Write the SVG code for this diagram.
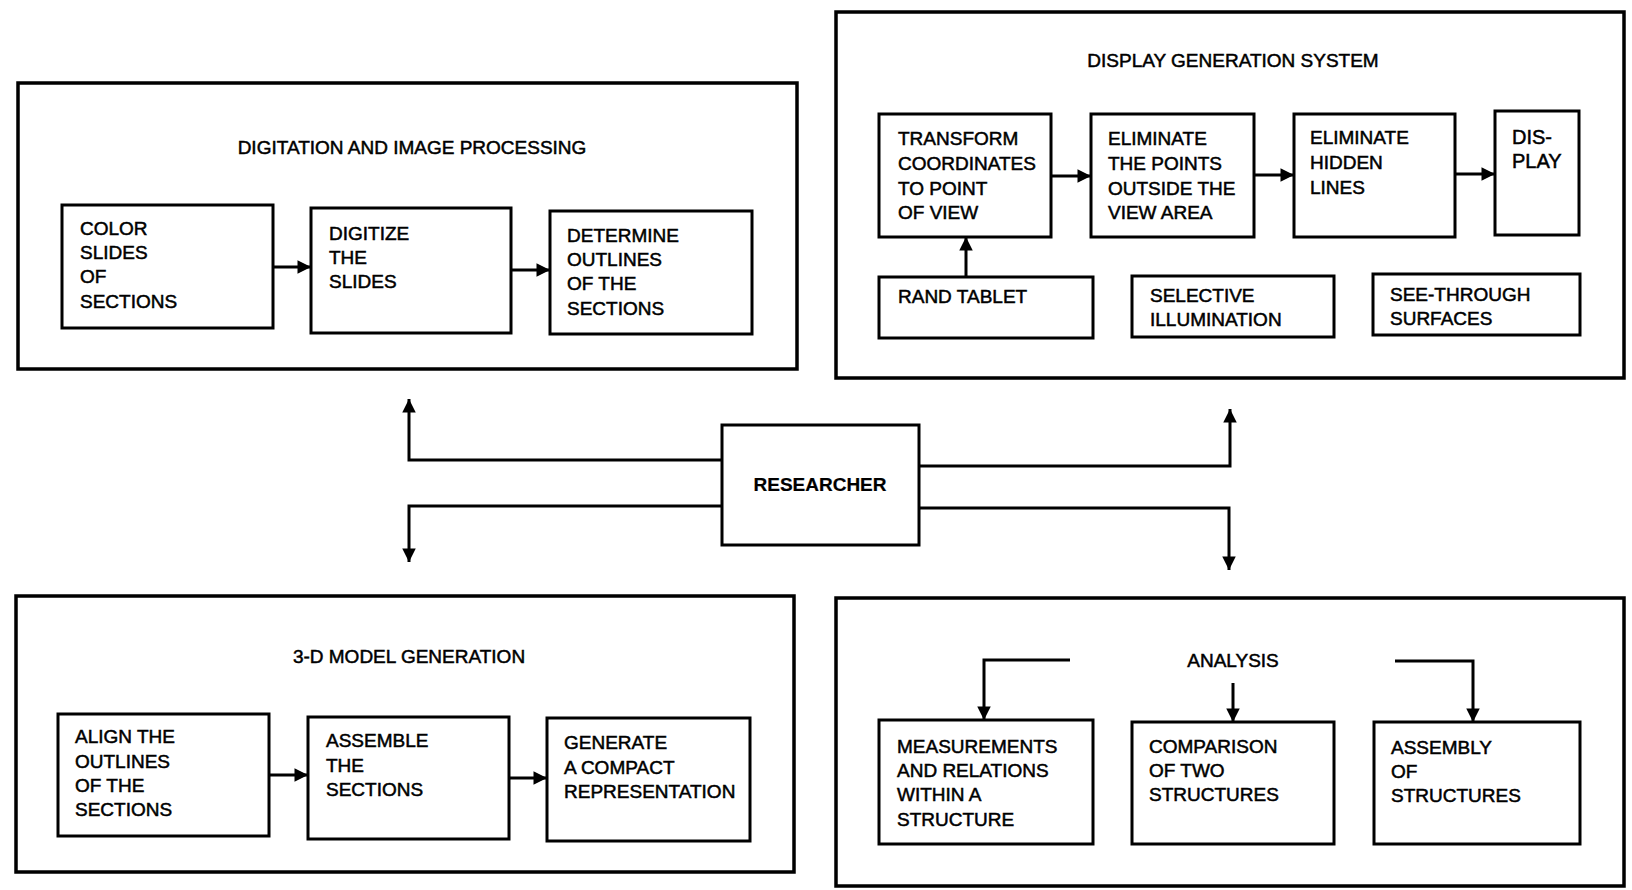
<svg xmlns="http://www.w3.org/2000/svg" width="1632" height="890" viewBox="0 0 1632 890">
<defs>
<marker id="ah" viewBox="0 0 10 10" refX="10" refY="5" markerWidth="6" markerHeight="4.5" orient="auto" markerUnits="strokeWidth">
<path d="M0,0 L10,5 L0,10 z" fill="#000"/>
</marker>
<style>
.panel{fill:#fff;stroke:#000;stroke-width:3.5}
.box{fill:#fff;stroke:#000;stroke-width:3}
text{font-family:"Liberation Sans",Arial,sans-serif;font-size:19px;fill:#000;stroke:#000;stroke-width:0.5}
.t{text-anchor:middle}
.b{font-weight:bold;stroke-width:0.2}
.c{fill:none;stroke:#000;stroke-width:3;marker-end:url(#ah)}
</style>
</defs>
<rect width="1632" height="890" fill="#fff"/>

<g id="panel-digitation">
<rect class="panel" x="18" y="83" width="779" height="286"/>
<text class="t" x="412" y="154">DIGITATION AND IMAGE PROCESSING</text>
</g>
<g id="color-slides">
<rect class="box" x="62" y="205" width="211" height="123"/>
<text x="80" y="235">COLOR</text><text x="80" y="259">SLIDES</text><text x="80" y="283">OF</text><text x="80" y="308">SECTIONS</text>
</g>
<g id="digitize">
<rect class="box" x="311" y="208" width="200" height="125"/>
<text x="329" y="240">DIGITIZE</text><text x="329" y="264">THE</text><text x="329" y="288">SLIDES</text>
</g>
<g id="determine">
<rect class="box" x="550" y="211" width="202" height="123"/>
<text x="567" y="242">DETERMINE</text><text x="567" y="266">OUTLINES</text><text x="567" y="290">OF THE</text><text x="567" y="315">SECTIONS</text>
</g>

<g id="panel-display">
<rect class="panel" x="836" y="12" width="788" height="366"/>
<text class="t" x="1233" y="67">DISPLAY GENERATION SYSTEM</text>
</g>
<g id="transform">
<rect class="box" x="879" y="114" width="172" height="123"/>
<text x="898" y="145">TRANSFORM</text><text x="898" y="170">COORDINATES</text><text x="898" y="195">TO POINT</text><text x="898" y="219">OF VIEW</text>
</g>
<g id="elim-points">
<rect class="box" x="1091" y="114" width="163" height="123"/>
<text x="1108" y="145">ELIMINATE</text><text x="1108" y="170">THE POINTS</text><text x="1108" y="195">OUTSIDE THE</text><text x="1108" y="219">VIEW AREA</text>
</g>
<g id="elim-hidden">
<rect class="box" x="1294" y="114" width="161" height="123"/>
<text x="1310" y="144">ELIMINATE</text><text x="1310" y="169">HIDDEN</text><text x="1310" y="194">LINES</text>
</g>
<g id="display">
<rect class="box" x="1495" y="111" width="84" height="124"/>
<text x="1512" y="144" style="font-size:20px">DIS-</text><text x="1512" y="168" style="font-size:20px">PLAY</text>
</g>
<g id="rand-tablet">
<rect class="box" x="879" y="277" width="214" height="61"/>
<text x="898" y="303">RAND TABLET</text>
</g>
<g id="selective">
<rect class="box" x="1132" y="276" width="202" height="61"/>
<text x="1150" y="302">SELECTIVE</text><text x="1150" y="326">ILLUMINATION</text>
</g>
<g id="see-through">
<rect class="box" x="1373" y="274" width="207" height="61"/>
<text x="1390" y="301">SEE-THROUGH</text><text x="1390" y="325">SURFACES</text>
</g>

<g id="researcher">
<rect class="box" x="722" y="425" width="197" height="120"/>
<text class="t b" x="820" y="491">RESEARCHER</text>
</g>

<g id="panel-model">
<rect class="panel" x="16" y="596" width="778" height="276"/>
<text class="t" x="409" y="663">3-D MODEL GENERATION</text>
</g>
<g id="align">
<rect class="box" x="58" y="714" width="211" height="122"/>
<text x="75" y="743">ALIGN THE</text><text x="75" y="768">OUTLINES</text><text x="75" y="792">OF THE</text><text x="75" y="816">SECTIONS</text>
</g>
<g id="assemble">
<rect class="box" x="308" y="717" width="201" height="122"/>
<text x="326" y="747">ASSEMBLE</text><text x="326" y="772">THE</text><text x="326" y="796">SECTIONS</text>
</g>
<g id="generate">
<rect class="box" x="547" y="718" width="203" height="123"/>
<text x="564" y="749">GENERATE</text><text x="564" y="774">A COMPACT</text><text x="564" y="798">REPRESENTATION</text>
</g>

<g id="panel-analysis">
<rect class="panel" x="836" y="598" width="788" height="288"/>
<text class="t" x="1233" y="667">ANALYSIS</text>
</g>
<g id="measurements">
<rect class="box" x="879" y="720" width="214" height="124"/>
<text x="897" y="753">MEASUREMENTS</text><text x="897" y="777">AND RELATIONS</text><text x="897" y="801">WITHIN A</text><text x="897" y="826">STRUCTURE</text>
</g>
<g id="comparison">
<rect class="box" x="1132" y="722" width="202" height="122"/>
<text x="1149" y="753">COMPARISON</text><text x="1149" y="777">OF TWO</text><text x="1149" y="801">STRUCTURES</text>
</g>
<g id="assembly">
<rect class="box" x="1374" y="722" width="206" height="122"/>
<text x="1391" y="754">ASSEMBLY</text><text x="1391" y="778">OF</text><text x="1391" y="802">STRUCTURES</text>
</g>

<g id="connectors">
<path class="c" d="M273,267 H311"/>
<path class="c" d="M511,270 H550"/>
<path class="c" d="M1051,176 H1091"/>
<path class="c" d="M1254,175 H1294"/>
<path class="c" d="M1455,174 H1495"/>
<path class="c" d="M966,277 V237"/>
<path class="c" d="M269,775 H308"/>
<path class="c" d="M509,778 H547"/>
<path class="c" d="M722,460 H409 V399"/>
<path class="c" d="M919,466 H1230 V409"/>
<path class="c" d="M722,506 H409 V562"/>
<path class="c" d="M919,508 H1229 V570"/>
<path class="c" d="M1070,660 H984 V720"/>
<path class="c" d="M1233,683 V722"/>
<path class="c" d="M1395,661 H1473 V722"/>
</g>
</svg>
